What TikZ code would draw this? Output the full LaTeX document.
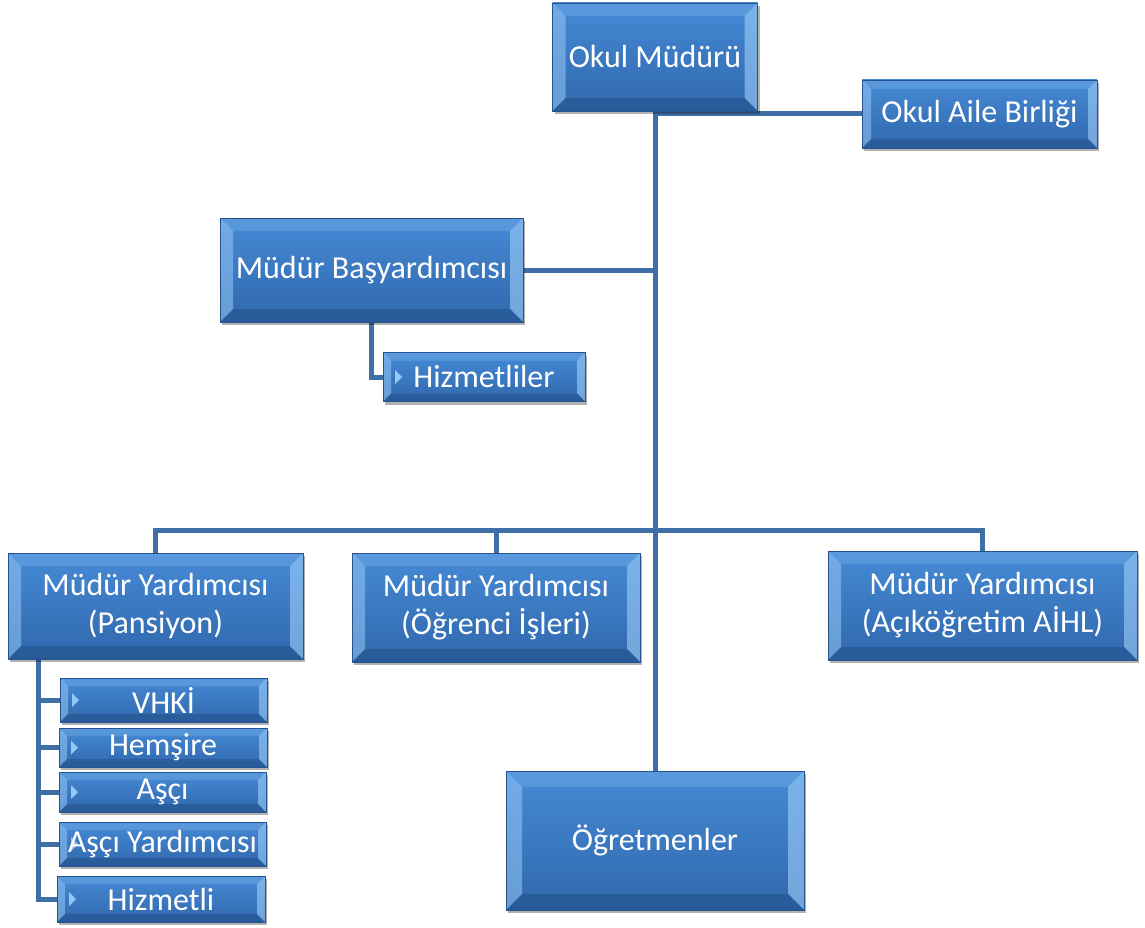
\documentclass[tikz,border=0pt]{standalone}
\usepackage{fontspec}
\setmainfont{Carlito}
\usetikzlibrary{shadows,backgrounds}
\definecolor{boxtop}{RGB}{70,138,214}
\definecolor{boxbot}{RGB}{48,104,172}
\definecolor{boxedge}{RGB}{40,82,140}
\definecolor{conncol}{RGB}{64,110,166}
\definecolor{bevlight}{RGB}{150,200,245}
\definecolor{bevdark}{RGB}{30,75,130}
\def\bevw{13}
\def\bevelcode{%
  \path (path picture bounding box.north west) coordinate (pNW)
        (path picture bounding box.south east) coordinate (pSE)
        (path picture bounding box.north east) coordinate (pNE)
        (path picture bounding box.south west) coordinate (pSW);
  \fill[bevlight, opacity=0.55] (pNW) -- (pSW) -- ([shift={(\bevw,\bevw)}]pSW) -- ([shift={(\bevw,-\bevw)}]pNW) -- cycle;
  \fill[bevlight, opacity=0.25] (pNW) -- (pNE) -- ([shift={(-\bevw,-\bevw)}]pNE) -- ([shift={(\bevw,-\bevw)}]pNW) -- cycle;
  \fill[bevlight, opacity=0.65] (pNE) -- (pSE) -- ([shift={(-\bevw,\bevw)}]pSE) -- ([shift={(-\bevw,-\bevw)}]pNE) -- cycle;
  \fill[bevdark, opacity=0.45] (pSW) -- (pSE) -- ([shift={(-\bevw,\bevw)}]pSE) -- ([shift={(\bevw,\bevw)}]pSW) -- cycle;}
\def\markercode{%
  \path (path picture bounding box.west) coordinate (pW);
  \fill[bevlight] ([shift={(12,7)}]pW) -- ([shift={(19,0)}]pW) -- ([shift={(12,-7)}]pW) -- cycle;}
\tikzset{
  x=1pt, y=1pt,
  bevel/.code={\def\bevw{#1}},
  bx/.style={draw=boxedge, line width=0.8pt, top color=boxtop, bottom color=boxbot,
    text=white, align=center, font=\fontsize{32}{38}\selectfont, inner sep=0pt,
    drop shadow={shadow xshift=2pt, shadow yshift=-3pt, opacity=0.3, fill=black},
    path picture={\bevelcode}},
  sbx/.style={bx, bevel=8, path picture={\bevelcode\markercode}},
  conn/.style={draw=conncol, line width=5pt, line join=miter}
}
\begin{document}
\begin{tikzpicture}
\useasboundingbox (0,0) rectangle (1145,-928);
\coordinate (bus) at (0,-530);
\coordinate (pv) at (38,0);
% boxes
\node[bx, minimum width=205pt, minimum height=108pt] (om) at (655,-57) {Okul Müdürü};
\node[bx, bevel=9, minimum width=235pt, minimum height=68pt] (oab) at (979.5,-114) {Okul Aile Birliği};
\node[bx, minimum width=303pt, minimum height=104pt] (mby) at (371.5,-270) {Müdür Başyardımcısı};
\node[sbx, minimum width=202pt, minimum height=49pt] (hzl) at (484,-377) {Hizmetliler};
\node[bx, minimum width=295pt, minimum height=106pt] (myp) at (155.5,-606) {Müdür Yardımcısı\\(Pansiyon)};
\node[bx, minimum width=288pt, minimum height=109pt] (myo) at (496,-607.5) {Müdür Yardımcısı\\(Öğrenci İşleri)};
\node[bx, minimum width=309pt, minimum height=109pt] (mya) at (982.5,-605.5) {Müdür Yardımcısı\\(Açıköğretim AİHL)};
\node[bx, bevel=16, minimum width=298pt, minimum height=139pt] (ogr) at (655,-840.5) {Öğretmenler};
\node[sbx, minimum width=207pt, minimum height=44pt] (vhki) at (163.5,-700) {VHKİ};
\node[sbx, minimum width=208pt, minimum height=39pt] (hem) at (163,-747.5) {Hemşire};
\node[sbx, minimum width=207pt, minimum height=40pt] (asc) at (162.5,-792) {Aşçı};
\node[sbx, minimum width=207pt, minimum height=44pt] (ascy) at (162.5,-844) {Aşçı Yardımcısı};
\node[sbx, minimum width=208pt, minimum height=46pt] (hzm) at (161,-899) {Hizmetli};
% connectors
\begin{scope}[on background layer]
\draw[conn] (om.south) -- (ogr.north);
\draw[conn] (om.south |- oab.west) -- (oab.west);
\draw[conn] (mby.east) -- (mby.east -| om.south);
\draw[conn] (mby.south) |- (hzl.west);
\draw[conn] (myp.north) -- (myp.north |- bus) -- (mya.north |- bus) -- (mya.north);
\draw[conn] (myo.north) -- (myo.north |- bus);
\draw[conn] (myp.south -| pv) -- (pv |- hzm.west) -- (hzm.west);
\foreach \n in {vhki,hem,asc,ascy}
  \draw[conn] (pv |- \n.west) -- (\n.west);
\end{scope}
\end{tikzpicture}
\end{document}
